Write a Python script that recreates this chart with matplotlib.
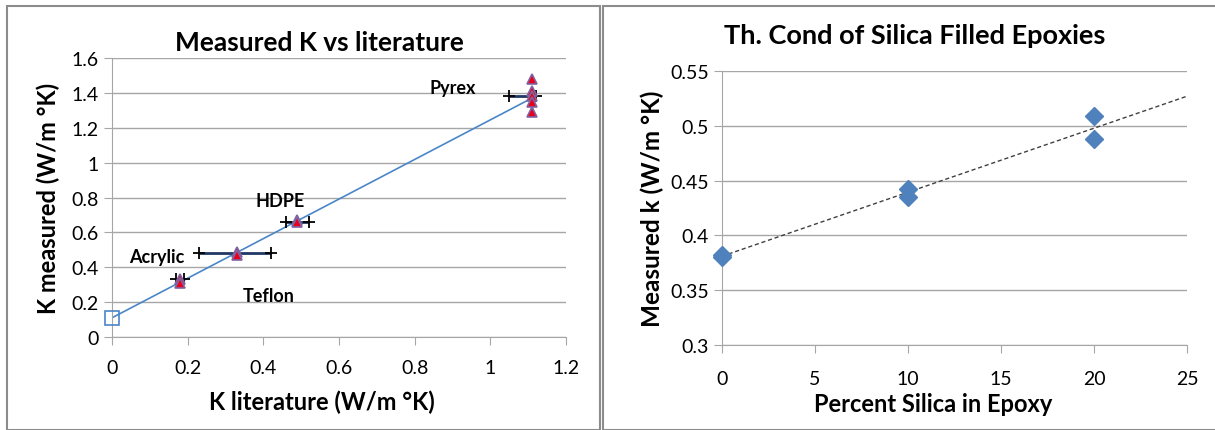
import matplotlib
matplotlib.use('Agg')
import matplotlib.pyplot as plt
from matplotlib.patches import Rectangle

plt.rcParams['font.family'] = ['Lato', 'DejaVu Sans']

# left chart: measured vs literature K
lit_k = [0.18, 0.18, 0.33, 0.33, 0.49, 0.49, 1.11, 1.11, 1.11, 1.11, 1.11]
meas_k = [0.33, 0.31, 0.49, 0.47, 0.67, 0.66, 1.48, 1.41, 1.38, 1.35, 1.29]
ref_x = [0]
ref_y = [0.11]
fit_x = [0, 1.11]
fit_y = [0.11, 1.37]
err_y = [0.33, 0.48, 0.66, 1.38]
err_lo = [0.17, 0.23, 0.46, 1.05]
err_hi = [0.19, 0.42, 0.52, 1.12]
mat_names = ['Pyrex', 'HDPE', 'Acrylic', 'Teflon']
mat_x = [0.84, 0.38, 0.045, 0.345]
mat_y = [1.43, 0.78, 0.46, 0.24]

# right chart: silica filled epoxies
silica = [0, 0, 10, 10, 20, 20]
epoxy_k = [0.382, 0.380, 0.442, 0.435, 0.509, 0.488]
trend_x = [0, 25]
trend_y = [0.381, 0.527]

fig = plt.figure(figsize=(12.15, 4.31), dpi=100)
fig.patches.append(Rectangle((7/1215, 0), 593/1215, 424/431, transform=fig.transFigure,
                             fill=False, edgecolor='#8c8c8c', lw=1.5))
fig.patches.append(Rectangle((603/1215, 0), 620/1215, 424/431, transform=fig.transFigure,
                             fill=False, edgecolor='#8c8c8c', lw=1.5))

grid_c = '#a6a6a6'


def style(ax):
    ax.grid(axis='y', color=grid_c, lw=1)
    ax.set_axisbelow(True)
    for s in ['top', 'right']:
        ax.spines[s].set_visible(False)
    for s in ['left', 'bottom']:
        ax.spines[s].set_color(grid_c)
    ax.tick_params(colors=grid_c, labelcolor='black', labelsize=14, length=6)


ax1 = fig.add_axes([112/1215, 1-338/431, 454/1215, 279/431])
ax1.plot(fit_x, fit_y, color='#4a86c8', lw=1.2, zorder=2)
ax1.plot(ref_x, ref_y, 's', ms=10, mfc='none', mec='#4a86c8', mew=1.2, zorder=3, clip_on=False)
ax1.hlines(err_y, err_lo, err_hi, color='#1f3864', lw=2, zorder=3)
ax1.plot(err_lo + err_hi, err_y + err_y, '+', color='black', ms=8, mew=1.3, zorder=4)
ax1.plot(lit_k, meas_k, '^', ms=7, mfc='#e8001c', mec='#8064a2', mew=1.2, zorder=5)
for name, x, y in zip(mat_names, mat_x, mat_y):
    ax1.text(x, y, name, fontsize=13, fontweight='bold', ha='left', va='center')
ax1.set_xlim(0, 1.2)
ax1.set_ylim(0, 1.6)
ax1.set_xticks([0, 0.2, 0.4, 0.6, 0.8, 1, 1.2])
ax1.set_xticklabels(['0', '0.2', '0.4', '0.6', '0.8', '1', '1.2'])
ax1.set_yticks([0, 0.2, 0.4, 0.6, 0.8, 1, 1.2, 1.4, 1.6])
ax1.set_yticklabels(['0', '0.2', '0.4', '0.6', '0.8', '1', '1.2', '1.4', '1.6'])
style(ax1)
ax1.tick_params(axis='x', pad=10)
ax1.set_xlabel('K literature (W/m °K)', fontsize=17, fontweight='bold')
ax1.xaxis.set_label_coords(0.463, -0.19)
ax1.set_ylabel('K measured (W/m °K)', fontsize=17, fontweight='bold', labelpad=8)
ax1.set_title('Measured K vs literature', fontsize=19, fontweight='bold', pad=6, x=0.458)

ax2 = fig.add_axes([722/1215, 1-346/431, 465/1215, 274/431])
ax2.plot(trend_x, trend_y, color='#404040', lw=1, ls=(0, (3, 2)), zorder=2)
ax2.plot(silica, epoxy_k, 'D', ms=9, color='#4f81bd', zorder=3, clip_on=False)
ax2.set_xlim(0, 25)
ax2.set_ylim(0.3, 0.55)
ax2.set_xticks([0, 5, 10, 15, 20, 25])
ax2.set_yticks([0.3, 0.35, 0.4, 0.45, 0.5, 0.55])
ax2.set_yticklabels(['0.3', '0.35', '0.4', '0.45', '0.5', '0.55'])
style(ax2)
ax2.tick_params(axis='x', pad=12)
ax2.set_xlabel('Percent Silica in Epoxy', fontsize=17, fontweight='bold')
ax2.xaxis.set_label_coords(0.454, -0.172)
ax2.set_ylabel('Measured k (W/m °K)', fontsize=17.5, fontweight='bold', labelpad=4)
ax2.set_title('Th. Cond of Silica Filled Epoxies', fontsize=19.5, fontweight='bold', pad=20, x=0.415)

fig.savefig('out.png', dpi=100)
